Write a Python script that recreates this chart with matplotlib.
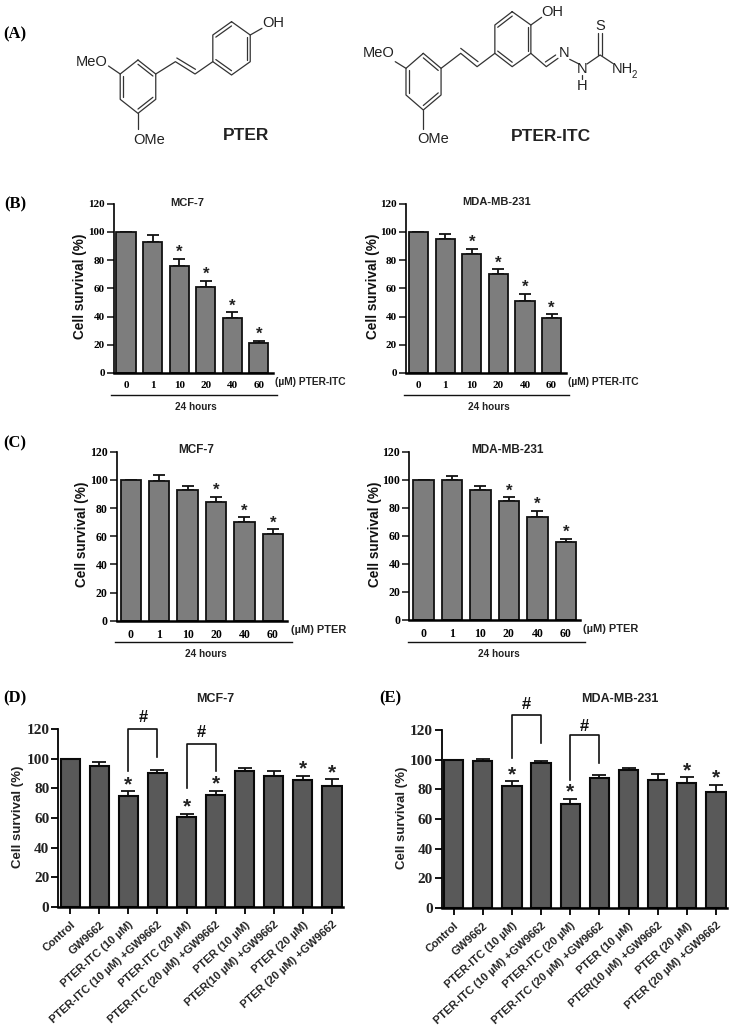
import matplotlib

matplotlib.use("Agg")
import matplotlib.pyplot as plt

W, H = 731, 1031
SANS = "Liberation Sans"
SERIF = "Liberation Serif"

doses = ["0", "1", "10", "20", "40", "60"]
treatments = [
    "Control",
    "GW9662",
    "PTER-ITC (10 µM)",
    "PTER-ITC (10 µM) +GW9662",
    "PTER-ITC (20 µM)",
    "PTER-ITC (20 µM) +GW9662",
    "PTER (10 µM)",
    "PTER(10 µM) +GW9662",
    "PTER (20 µM)",
    "PTER (20 µM) +GW9662",
]
yticks = [0, 20, 40, 60, 80, 100, 120]

b_mcf = [100, 93, 76, 61, 39, 21]
b_mcf_err = [0, 5, 5, 4.5, 4, 2]
b_mcf_star = [2, 3, 4, 5]
b_mda = [100, 95, 84, 70, 51, 39]
b_mda_err = [0, 3.5, 4, 3.5, 5, 2.5]
b_mda_star = [2, 3, 4, 5]
c_mcf = [100, 99.5, 92.5, 84.5, 70, 61.5]
c_mcf_err = [0, 4, 3.5, 3.5, 3.5, 3.5]
c_mcf_star = [3, 4, 5]
c_mda = [100, 100, 93, 84.5, 73.5, 55.5]
c_mda_err = [0, 2.5, 2.5, 3, 4.5, 2.5]
c_mda_star = [3, 4, 5]
d_mcf = [100, 95, 75, 90.5, 60.5, 75.5, 91.5, 88.5, 85.5, 81.5]
d_mcf_err = [0, 3, 3, 2, 2.5, 3, 2.5, 3.5, 3, 4.5]
d_mcf_star = [2, 4, 5, 8, 9]
e_mda = [100, 99, 82, 97.5, 70, 87.5, 93, 86.5, 84.5, 78.5]
e_mda_err = [0, 1.5, 3.5, 1.5, 3.5, 2.5, 1.5, 4, 3.5, 4.5]
e_mda_star = [2, 4, 8, 9]

fig = plt.figure(figsize=(W / 100, H / 100), dpi=100)

# overlay in image pixels, for panel letters, molecules and loose labels
page = fig.add_axes([0, 0, 1, 1], zorder=5)
page.set_xlim(0, W)
page.set_ylim(H, 0)
page.axis("off")
page.patch.set_alpha(0)


def make_axes(left, right, top, bottom):
    return fig.add_axes([left / W, 1 - bottom / H, (right - left) / W, (bottom - top) / H])


def dose_panel(rect, xlim, values, errs, stars, title, title_x, title_y, label_x, unit, unit_x, line, hours_x, size):
    left, right, top, bottom = rect
    ax = make_axes(left, right, top, bottom)
    x = range(len(values))
    ax.bar(x, values, 0.72, color="#7d7d7d", edgecolor="#111111", linewidth=1.3, zorder=2)
    ax.errorbar(x, values, yerr=[[0] * len(errs), errs], fmt="none", ecolor="#111111",
                elinewidth=1.3, capsize=4.5, capthick=1.3, zorder=1)
    for i in stars:
        ax.text(i, values[i] + errs[i] + 4.5, "*", ha="center", va="center", fontsize=12,
                family=SANS, fontweight="bold", color="#222222")
    ax.set_xlim(*xlim)
    ax.set_ylim(0, 120)
    ax.set_yticks(yticks)
    ax.set_yticklabels(yticks, family=SERIF, fontweight="bold", fontsize=size)
    ax.set_xticks(list(x))
    ax.set_xticklabels(doses, family=SERIF, fontweight="bold", fontsize=size)
    ax.tick_params(axis="y", length=5, width=1.2, pad=1.5, color="#222222")
    ax.tick_params(axis="x", length=0, pad=6)
    for s in ["top", "right"]:
        ax.spines[s].set_visible(False)
    ax.spines["left"].set_linewidth(1.2)
    ax.spines["bottom"].set_linewidth(1.8)
    page.text(title_x, title_y, title, ha="center", va="center", family=SANS, fontweight="bold", fontsize=size, color="#222222")
    page.text(label_x, (top + bottom) / 2 - 2, "Cell survival (%)", rotation=90, ha="center", va="center",
              family=SANS, fontweight="bold", fontsize=9.8, color="#111111")
    page.text(unit_x, bottom + 9, unit, ha="left", va="center", family=SANS, fontweight="bold", fontsize=size - 0.6, color="#222222")
    page.plot(line[:2], [line[2], line[2]], color="#111111", lw=1)
    page.text(hours_x, line[2] + 12, "24 hours", ha="center", va="center", family=SANS, fontweight="bold", fontsize=7.2, color="#222222")
    return ax


def treatment_panel(rect, values, errs, stars, title, title_x, title_y, label_x, brackets):
    left, right, top, bottom = rect
    ax = make_axes(left, right, top, bottom)
    x = range(len(values))
    ax.bar(x, values, 0.66, color="#595959", edgecolor="#0a0a0a", linewidth=1.5, zorder=2)
    ax.errorbar(x, values, yerr=[[0] * len(errs), errs], fmt="none", ecolor="#111111",
                elinewidth=1.3, capsize=5, capthick=1.3, zorder=1)
    for i in stars:
        ax.text(i, values[i] + errs[i] + 4.5, "*", ha="center", va="center", fontsize=15,
                family=SANS, fontweight="bold", color="#222222", zorder=5)
    ax.set_xlim(-0.41, 9.38)
    ax.set_ylim(0, 120)
    ax.set_yticks(yticks)
    ax.set_yticklabels(yticks, family=SERIF, fontweight="bold", fontsize=11, color="#222222")
    ax.set_xticks(list(x))
    ax.set_xticklabels(treatments, family=SANS, fontweight="bold", fontsize=8, rotation=42,
                       ha="right", rotation_mode="anchor", color="#222222")
    ax.tick_params(axis="y", length=5, width=1.3, pad=1.5)
    ax.tick_params(axis="x", length=5, width=1.3, pad=4)
    for s in ["top", "right"]:
        ax.spines[s].set_visible(False)
    ax.spines["left"].set_linewidth(1.3)
    ax.spines["bottom"].set_linewidth(1.8)
    for x0, x1, y0, y1, ytop, yhash in brackets:
        ax.plot([x0, x0, x1, x1], [y0, ytop, ytop, y1], color="#111111", lw=1.2, clip_on=False, zorder=4)
        ax.text((x0 + x1) / 2, yhash, "#", ha="center", va="center", fontsize=12, family=SANS,
                fontweight="bold", color="#111111", clip_on=False)
    page.text(title_x, title_y, title, ha="center", va="center", family=SANS, fontweight="bold", fontsize=9, color="#222222")
    page.text(label_x, (top + bottom) / 2 - 1, "Cell survival (%)", rotation=90, ha="center", va="center",
              family=SANS, fontweight="bold", fontsize=9.5, color="#222222")
    return ax


dose_panel((114, 273, 203.7, 373), (-0.45, 5.53), b_mcf, b_mcf_err, b_mcf_star, "MCF-7", 187, 203, 80,
           "(µM) PTER-ITC", 275, (111, 277, 395), 196, 8)
dose_panel((405.7, 565.7, 203.7, 373), (-0.48, 5.53), b_mda, b_mda_err, b_mda_star, "MDA-MB-231", 497, 202, 373,
           "(µM) PTER-ITC", 568, (404, 569, 395), 489, 8)
dose_panel((116.7, 287, 451.7, 620.7), (-0.5, 5.5), c_mcf, c_mcf_err, c_mcf_star, "MCF-7", 196, 450, 82,
           "(µM) PTER", 291, (115, 292, 642), 206, 8.5)
dose_panel((409.3, 580, 451.7, 620), (-0.5, 5.5), c_mda, c_mda_err, c_mda_star, "MDA-MB-231", 507, 450, 375,
           "(µM) PTER", 583, (408, 585, 642), 499, 8.5)

treatment_panel((58.3, 343, 729, 907), d_mcf, d_mcf_err, d_mcf_star, "MCF-7", 215, 699, 18,
                [(2, 3, 92, 101, 120, 128), (4, 5, 80, 92, 110, 117.5)])
treatment_panel((441.7, 727, 730, 908), e_mda, e_mda_err, e_mda_star, "MDA-MB-231", 620, 699, 402,
                [(2, 3, 101, 111, 130, 137), (4, 5, 86.5, 98, 116.5, 122.5)])

# panel letters
for letter, lx, ly in [("(A)", 15, 34), ("(B)", 15, 204), ("(C)", 15, 443), ("(D)", 15, 698), ("(E)", 390, 698)]:
    page.text(lx, ly, letter, ha="center", va="center", family=SERIF, fontweight="bold", fontsize=12, color="black")

# molecules: coordinates are from the 2.14x by 3x crop of the top strip
mol_color = "#333333"
SX = 1 / 2.138
SY = 1 / 3


def bonds(points):
    xs = [p[0] * SX for p in points]
    ys = [p[1] * SY for p in points]
    page.plot(xs, ys, color=mol_color, lw=0.9, solid_capstyle="round")


def atom(tx, ty, s, size=10.5, weight="normal"):
    page.text(tx * SX, ty * SY, s, ha="center", va="center", family=SANS, fontsize=size, fontweight=weight, color="#222222")


def inner(a, b, cx, cy, f=0.16):
    # second line of a double bond, pulled towards the ring centre
    p = [a[0] + (cx - a[0]) * f, a[1] + (cy - a[1]) * f]
    q = [b[0] + (cx - b[0]) * f, b[1] + (cy - b[1]) * f]
    bonds([p, q])


ring_a = [(295, 180), (333, 222), (333, 298), (295, 340), (257, 298), (257, 222)]
ring_b = [(495, 65), (535, 105), (535, 185), (495, 225), (455, 185), (455, 105)]
ring_c = [(905, 160), (943, 205), (943, 285), (905, 330), (868, 285), (868, 205)]
ring_d = [(1095, 35), (1135, 75), (1135, 160), (1095, 200), (1058, 160), (1058, 75)]

for ring, pairs in [(ring_a, [(0, 1), (2, 3), (4, 5)]), (ring_b, [(0, 5), (1, 2), (3, 4)]),
                    (ring_c, [(0, 1), (2, 3), (4, 5)]), (ring_d, [(0, 5), (1, 2), (3, 4)])]:
    bonds(ring + ring[:1])
    cx = sum(p[0] for p in ring) / 6
    cy = sum(p[1] for p in ring) / 6
    for i, j in pairs:
        inner(ring[i], ring[j], cx, cy)

bonds([(295, 340), (295, 388)])
bonds([(257, 222), (232, 198)])
bonds([(333, 222), (375, 185), (417, 222), (455, 185)])
bonds([(378, 174), (418, 208)])
bonds([(535, 105), (560, 85)])
atom(585, 70, "OH")
atom(195, 185, "MeO")
atom(318, 420, "OMe")
atom(527, 405, "PTER", 12.5, "bold")

bonds([(905, 330), (905, 386)])
bonds([(868, 205), (845, 185)])
bonds([(943, 205), (985, 160), (1020, 200), (1058, 160)])
bonds([(985, 145), (1022, 185)])
bonds([(1135, 75), (1158, 52)])
bonds([(1135, 160), (1168, 200), (1193, 175)])
bonds([(1166, 186), (1188, 165)])
bonds([(1218, 178), (1238, 192)])
bonds([(1255, 192), (1283, 165), (1310, 190)])
bonds([(1279, 165), (1279, 100)])
bonds([(1287, 165), (1287, 100)])
bonds([(1245, 225), (1245, 238)])
atom(1180, 35, "OH")
atom(810, 160, "MeO")
atom(925, 418, "OMe")
atom(1205, 160, "N")
atom(1245, 208, "N")
atom(1245, 258, "H")
atom(1283, 78, "S")
atom(1330, 208, "NH")
atom(1357, 225, "2", 7)
atom(1178, 410, "PTER-ITC", 12.5, "bold")

fig.savefig("out.png", dpi=100, facecolor="white")
